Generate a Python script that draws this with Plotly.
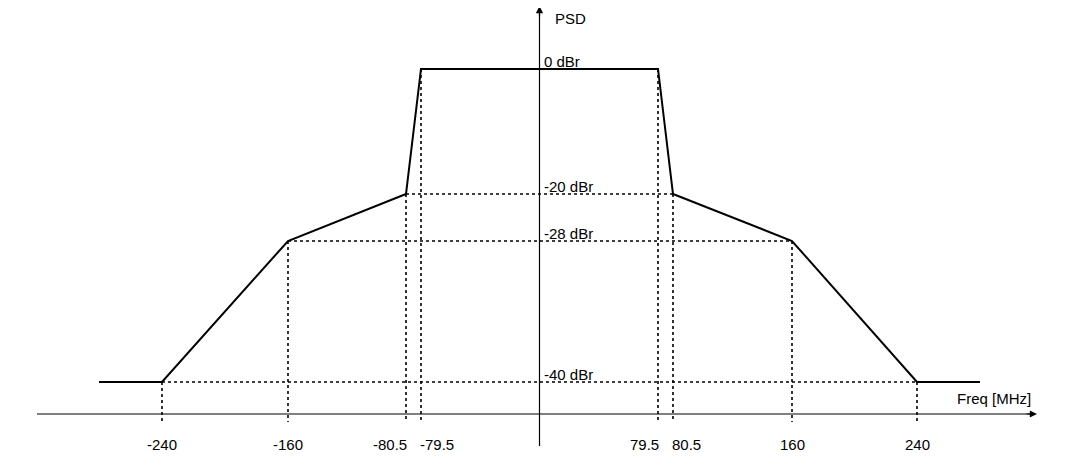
import numpy as np
import plotly.graph_objects as go

freq = [-280, -240, -160, -80.5, -79.5, 79.5, 80.5, 160, 240, 280]
dbr = [-40, -40, -28, -20, 0, 0, -20, -28, -40, -40]
freq_ticks = [-240, -160, -80.5, -79.5, 79.5, 80.5, 160, 240]
freq_tick_labels = ["-240", "-160", "-80.5", "-79.5", "79.5", "80.5", "160", "240"]
freq_tick_anchor = ["center", "center", "right", "left", "right", "left", "center", "center"]
level_ticks = [0, -20, -28, -40]
level_labels = ["0 dBr", "-20 dBr", "-28 dBr", "-40 dBr"]

# schematic (not-to-scale) drawing scales
fx_anchor = [-280, -240, -160, -80.5, -79.5, 0, 79.5, 80.5, 160, 240, 280]
fx_px = [99, 162, 288, 406, 421, 539.5, 658, 673, 792, 917, 980]
ly_anchor = [-45, -40, -28, -20, 0]
ly_px = [414, 382, 241, 194, 69]
fx = lambda f: np.interp(f, fx_anchor, fx_px)
ly = lambda d: np.interp(d, ly_anchor, ly_px)
AX_Y = ly(-45)
AX_X = fx(0)

fig = go.Figure()
fig.add_trace(go.Scatter(x=fx(freq), y=ly(dbr), mode="lines",
                         line=dict(color="black", width=2), hoverinfo="skip"))
dot = dict(color="black", width=1.6, dash="dot")
shapes = []
for f, d in zip(freq[1:-1], dbr[1:-1]):
    shapes.append(dict(type="line", x0=fx(f), x1=fx(f), y0=ly(d), y1=AX_Y + 8, line=dot))
for d in level_ticks[1:]:
    fs = [f for f, v in zip(freq[1:-1], dbr[1:-1]) if v == d]
    shapes.append(dict(type="line", x0=fx(min(fs)), x1=fx(max(fs)), y0=ly(d), y1=ly(d), line=dot))
shapes.append(dict(type="line", x0=37, x1=1030, y0=AX_Y, y1=AX_Y, line=dict(color="black", width=1.2)))
shapes.append(dict(type="line", x0=AX_X, x1=AX_X, y0=446, y1=12, line=dict(color="black", width=1.2)))
fig.update_layout(shapes=shapes)

font = dict(family="Liberation Sans, Arial", size=15, color="black")
ann = []
ann.append(dict(x=1037, y=AX_Y, ax=1025, ay=AX_Y, xref="x", yref="y", axref="x", ayref="y",
                showarrow=True, arrowhead=2, arrowsize=1.2, arrowwidth=1.2, arrowcolor="black", text=""))
ann.append(dict(x=AX_X, y=6, ax=AX_X, ay=18, xref="x", yref="y", axref="x", ayref="y",
                showarrow=True, arrowhead=2, arrowsize=1.2, arrowwidth=1.2, arrowcolor="black", text=""))
ann.append(dict(x=553, y=18, text="PSD", showarrow=False, xanchor="left", font=font))
ann.append(dict(x=1033, y=398, text="Freq [MHz]", showarrow=False, xanchor="right", font=font))
for d, t in zip(level_ticks, level_labels):
    ann.append(dict(x=542, y=ly(d) - 8, text=t, showarrow=False, xanchor="left", font=font))
for f, t, a in zip(freq_ticks, freq_tick_labels, freq_tick_anchor):
    xo = {"center": 0, "right": 3, "left": -3}[a]
    ann.append(dict(x=fx(f) + xo, y=444, text=t, showarrow=False, xanchor=a, font=font))
fig.update_layout(annotations=ann)

fig.update_layout(width=1080, height=470, margin=dict(l=0, r=0, t=0, b=0),
                  plot_bgcolor="white", paper_bgcolor="white", showlegend=False,
                  xaxis=dict(range=[8, 1088], visible=False),
                  yaxis=dict(range=[478, 8], visible=False))
fig.write_html("out.html")
